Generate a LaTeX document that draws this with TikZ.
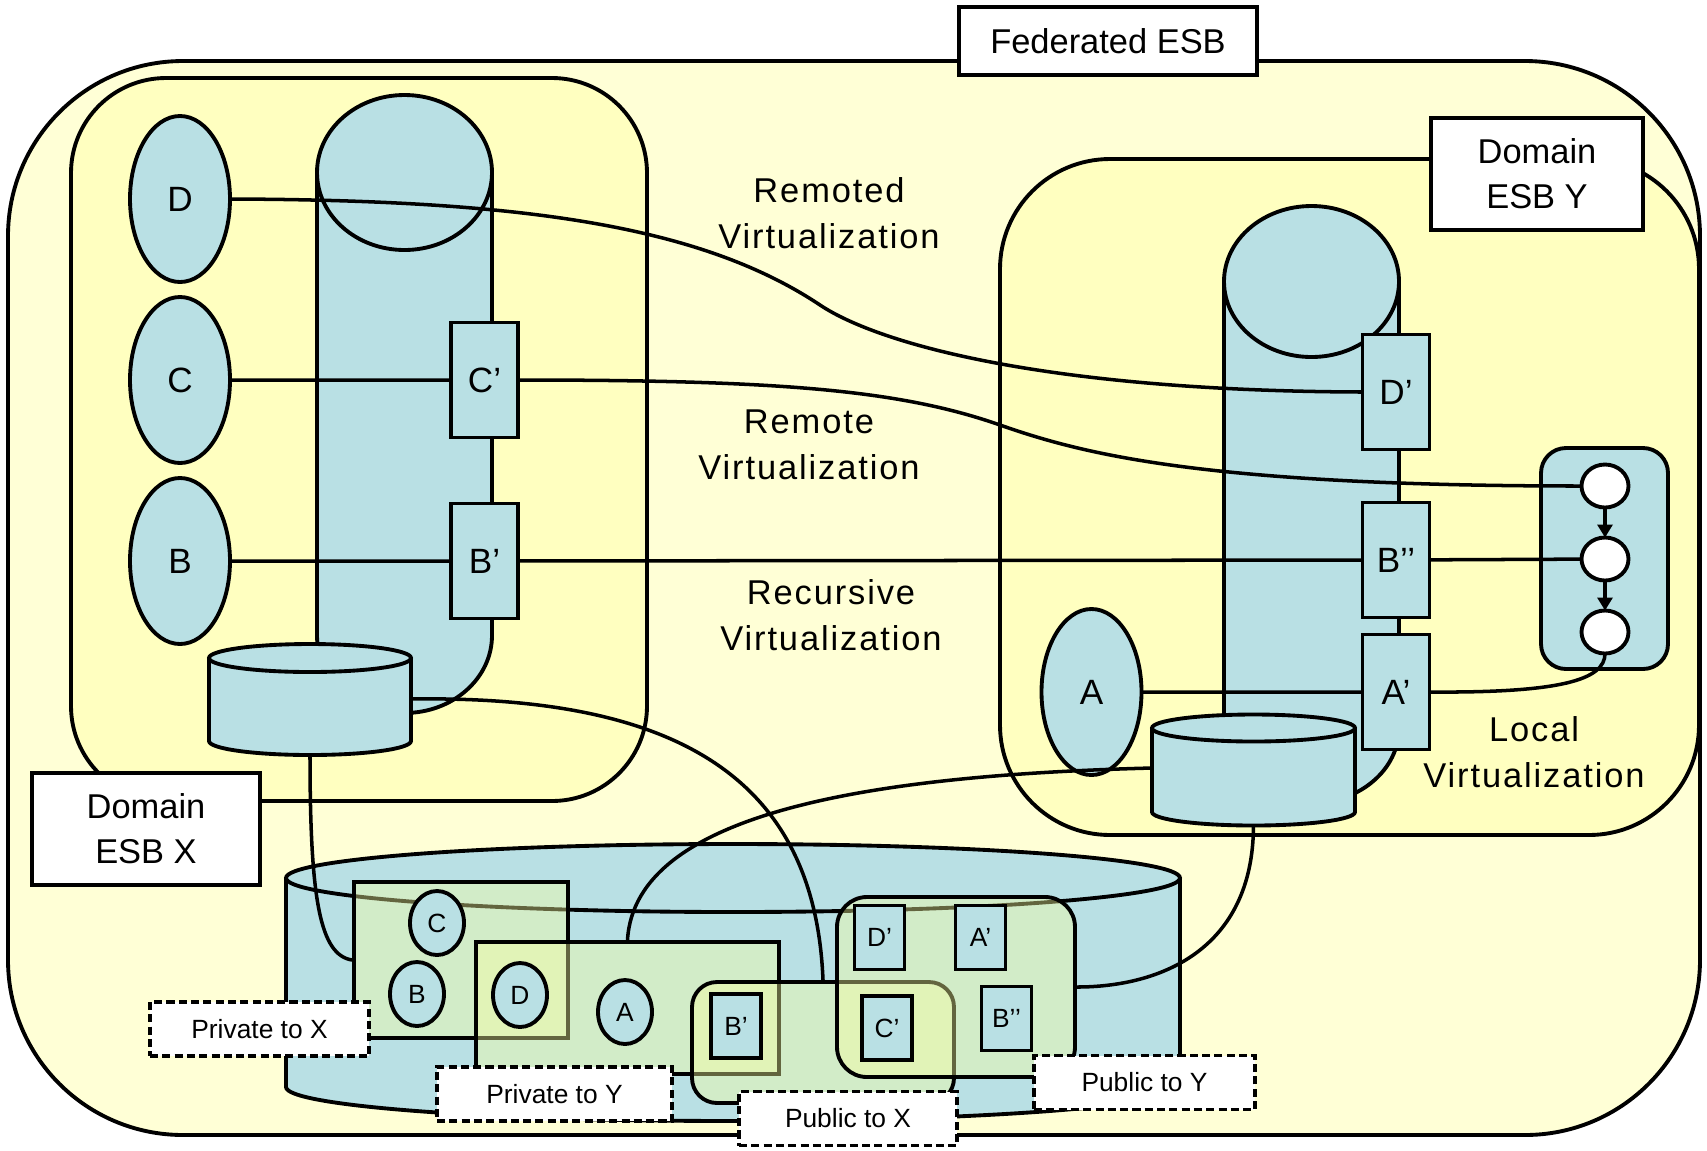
\documentclass[tikz,border=0pt]{standalone}
\usepackage{fontspec}
\setmainfont{Liberation Sans}
\newfontfamily\spacedsans[LetterSpace=5.5]{Liberation Sans}
\usetikzlibrary{shapes.geometric, arrows.meta, positioning}
\definecolor{FedCream}{RGB}{255,255,214}
\definecolor{DomYellow}{RGB}{255,255,192}
\definecolor{EsbBlue}{RGB}{185,224,228}
\definecolor{ScopeYellow}{RGB}{249,254,158}

\begin{document}
\begin{tikzpicture}[
  x=0.1mm, y=-0.1mm, line width=1.1pt,
  esbbox/.style={draw, fill=DomYellow, rounded corners=#1, inner sep=0pt},
  esbtag/.style={draw, fill=white, align=center, inner sep=0pt,
                 font=\fontsize{9.8}{12.8}\selectfont},
  comp/.style={ellipse, draw, fill=EsbBlue, inner sep=0pt, outer sep=0pt,
               minimum width=10mm, minimum height=16.6mm,
               font=\fontsize{10}{12}\selectfont},
  proxy/.style={rectangle, draw, fill=EsbBlue, inner sep=0pt, outer sep=0pt,
                minimum width=6.7mm, minimum height=11.5mm,
                font=\fontsize{10}{12}\selectfont},
  minicomp/.style={ellipse, draw, fill=EsbBlue, inner sep=0pt,
                   minimum width=5.4mm, minimum height=6.4mm,
                   font=\fontsize{7.5}{9}\selectfont},
  miniproxy/.style={rectangle, draw, fill=EsbBlue, inner sep=0pt,
                    minimum width=5mm, minimum height=6.4mm,
                    font=\fontsize{7.5}{9}\selectfont},
  flowdot/.style={ellipse, draw, fill=white, inner sep=0pt, outer sep=0pt,
                  minimum width=4.7mm, minimum height=4.3mm},
  cyl/.style={draw, fill=EsbBlue},
  scopebox/.style={draw, fill=ScopeYellow, fill opacity=0.4, inner sep=0pt},
  scopetag/.style={draw, dash pattern=on 2.3pt off 1.2pt, fill=white,
                   inner sep=0pt, minimum height=5.4mm,
                   font=\fontsize{7.5}{9}\selectfont},
  virtnote/.style={align=center, inner sep=0pt,
                   font=\spacedsans\fontsize{9.8}{13}\selectfont},
  link/.style={line width=1pt},
  flow/.style={-{Triangle[length=1.3mm, width=1.5mm]}, line width=1pt},
]
\path[use as bounding box, fill=white] (0,0) rectangle (1707,1150);

\node[esbbox=17.5mm, fill=FedCream, minimum width=169.2mm,
      minimum height=107.4mm] (fed) at (854,598) {};
\node[esbtag, minimum width=29.8mm, minimum height=6.8mm] (fedtag)
  at (1108,41) {Federated ESB};

\node[esbbox=9.5mm, minimum width=57.6mm, minimum height=72.3mm]
  (domX) at (359,439.5) {};
\node[esbbox=11mm, minimum width=69.9mm, minimum height=67.6mm]
  (domY) at (1349.5,497) {};

\draw[cyl] (317,172.5) -- (317,635.5)
  arc[start angle=180, end angle=0, x radius=87.5, y radius=77.5] -- (492,172.5);
\draw[cyl] (404.5,172.5) ellipse[x radius=87.5, y radius=77.5];
\draw[cyl] (1224,281.5) -- (1224,728)
  arc[start angle=180, end angle=0, x radius=87.5, y radius=75] -- (1399,281.5);
\draw[cyl] (1311.5,281.5) ellipse[x radius=87.5, y radius=75.5];

\node[comp] (xD) at (180,199) {D};
\node[comp, below=1.5mm of xD] (xC) {C};
\node[comp, below=1.5mm of xC] (xB) {B};
\node[proxy] (xCp) at (484.5,380) {C’};
\node[proxy, below=6.6mm of xCp] (xBp) {B’};

\node[comp] (yA) at (1091.5,692) {A};
\node[proxy] (yDp) at (1396,392) {D’};
\node[proxy, below=5.3mm of yDp] (yBpp) {B’’};
\node[proxy, below=1.7mm of yBpp] (yAp) {A’};

\node[draw, fill=EsbBlue, rounded corners=2.5mm, minimum width=12.7mm,
      minimum height=22.1mm] (flowY) at (1604.5,558.5) {};
\node[flowdot] (c1) at (1605,486) {};
\node[flowdot, below=3mm of c1] (c2) {};
\node[flowdot, below=3mm of c2] (c3) {};

\draw[cyl] (209,658) -- (209,741)
  arc[start angle=180, end angle=0, x radius=101, y radius=14] -- (411,658);
\draw[cyl] (310,658) ellipse[x radius=101, y radius=14];
\coordinate (xdbS) at (310,755);
\coordinate (xdbE) at (411,699);

\draw[cyl] (1152,728) -- (1152,812)
  arc[start angle=180, end angle=0, x radius=101.5, y radius=13.5] -- (1355,728);
\draw[cyl] (1253.5,728) ellipse[x radius=101.5, y radius=13.5];
\coordinate (ydbW) at (1152,768);
\coordinate (ydbS) at (1253.5,825.5);

\node[esbtag, minimum width=22.8mm, minimum height=11.2mm] (tagX)
  at (146,829) {Domain\\ESB X};
\node[esbtag, minimum width=21.2mm, minimum height=11.2mm] (tagY)
  at (1537,174) {Domain\\ESB Y};

\draw[link] (xC) -- (xCp);
\draw[link] (xB) -- (xBp);
\draw[link] (xBp) -- (yBpp);
\draw[link] (yBpp) -- (c2);
\draw[link] (yA) -- (yAp);
\draw[link] (xD.east) .. controls (520,200) and (700,225) .. (820,305)
  .. controls (880,345) and (1050,391) .. (yDp.west);
\draw[link] (xCp.east) .. controls (780,380) and (900,390) .. (1000,425)
  .. controls (1080,453) and (1200,486) .. (c1.west);
\draw[link] (yAp.east) .. controls (1560,693) and (1605,680) .. (c3.south);
\draw[flow] (c1) -- (c2);
\draw[flow] (c2) -- (c3);

\draw[cyl] (286,878) -- (286,1087)
  arc[start angle=180, end angle=0, x radius=447, y radius=34] -- (1180,878);
\draw[cyl] (733,878) ellipse[x radius=447, y radius=34];

\node[scopebox, minimum width=21.4mm, minimum height=15.6mm] (privX)
  at (461,960) {};
\node[scopebox, minimum width=30.3mm, minimum height=13.2mm] (privY)
  at (627.5,1008) {};
\node[scopebox, rounded corners=2.5mm, minimum width=26.2mm,
      minimum height=12.1mm] (pubX) at (823,1042.5) {};
\node[scopebox, rounded corners=3mm, minimum width=23.8mm,
      minimum height=18mm] (pubY) at (956,987) {};

\node[minicomp] (sC) at (437,923) {C};
\node[minicomp] (sB) at (417,994) {B};
\node[minicomp] (sD) at (520,995) {D};
\node[minicomp] (sA) at (625,1012) {A};
\node[miniproxy] (sBp) at (736,1026) {B’};
\node[miniproxy] (sDp) at (879.5,937.5) {D’};
\node[miniproxy] (sAp) at (980.5,937.5) {A’};
\node[miniproxy] (sCp) at (887,1028) {C’};
\node[miniproxy] (sBpp) at (1006.5,1018.5) {B’’};

\node[scopetag, minimum width=21.9mm] (tPrivX) at (259.5,1029) {Private to X};
\node[scopetag, minimum width=23.5mm] (tPrivY) at (554.5,1094) {Private to Y};
\node[scopetag, minimum width=21.8mm] (tPubX) at (848,1118.5) {Public to X};
\node[scopetag, minimum width=22.1mm] (tPubY) at (1144.5,1082.5) {Public to Y};

\draw[link] (xdbS) .. controls (310,900) and (320,955) .. (privX.west);
\draw[link] (xdbE) .. controls (680,695) and (815,780) .. (pubX.north);
\draw[link] (ydbW) .. controls (880,775) and (635,810) .. (privY.north);
\draw[link] (ydbS) .. controls (1253,950) and (1160,987) .. (pubY.east);

\node[virtnote] (remoted) at (829,213) {Remoted\\Virtualization};
\node[virtnote] (remote) at (809,445) {Remote\\Virtualization};
\node[virtnote] (recursive) at (831,615) {Recursive\\Virtualization};
\node[virtnote] (local) at (1534,752) {Local\\Virtualization};
\end{tikzpicture}
\end{document}
